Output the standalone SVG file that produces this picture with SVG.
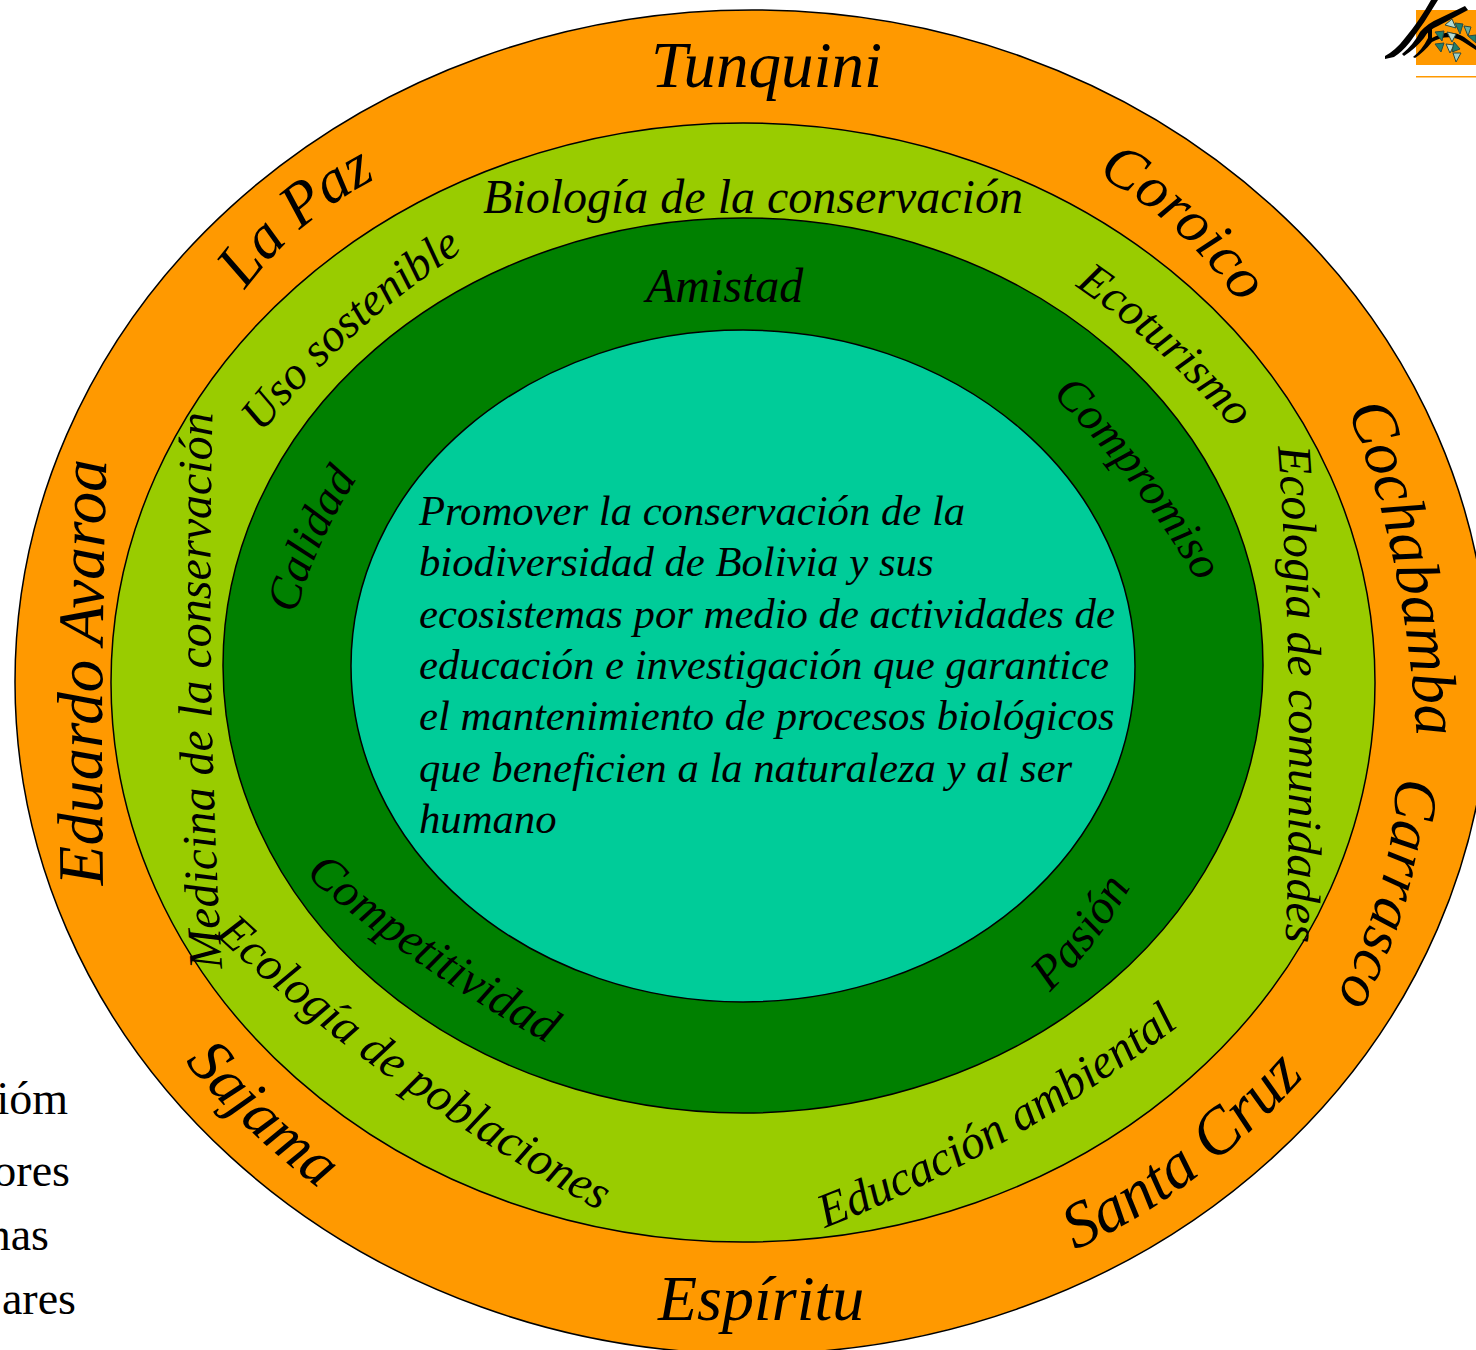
<svg xmlns="http://www.w3.org/2000/svg" width="1476" height="1350" viewBox="0 0 1476 1350">
<style>
.r{stroke:#000;stroke-width:1.5}
text{font-family:"Liberation Serif","Times New Roman",serif;font-style:italic;fill:#000}
.o{font-size:65px}.n{font-size:62px}.g{font-size:48px}.s{font-size:46.5px}.c{font-size:42.7px}
.l{font-style:normal;font-size:46px;text-anchor:end}
</style>
<defs>
<path id="p1" d="M245 290Q302 212 397 168"/>
<path id="p2" d="M1097 175Q1190 225 1250 320"/>
<path id="p3" d="M1347 410Q1408 555 1418 760"/>
<path id="p4" d="M1396 778Q1394 895 1327 1015"/>
<path id="p5" d="M1075 1250Q1208 1190 1320 1058"/>
<path id="p6" d="M185 1062Q250 1140 345 1208"/>
<path id="p7" d="M103 885Q100 670 107 440"/>
<path id="g1" d="M262 433Q350 322 480 240"/>
<path id="g2" d="M1075 286Q1168 349 1253 452"/>
<path id="g3" d="M1278 447Q1296 690 1285 960"/>
<path id="g4" d="M825 1228Q1007 1158 1192 1016"/>
<path id="g5" d="M215 935Q390 1098 620 1222"/>
<path id="g6" d="M222 968Q205 690 213 395"/>
<path id="d1" d="M296 614Q316 537 368 462"/>
<path id="d2" d="M1052 395Q1140 480 1210 603"/>
<path id="d3" d="M1050 992Q1100 945 1140 870"/>
<path id="d4" d="M305 875Q420 975 570 1056"/>
</defs>
<rect width="1476" height="1350" fill="#fff"/>
<g id="legend-text">
<text class="l" x="68" y="1114">ióm</text>
<text class="l" x="70" y="1186">ores</text>
<text class="l" x="49" y="1250">nas</text>
<text class="l" x="76" y="1314">ares</text>
</g>
<g id="ring-outer"><ellipse class="r" cx="752" cy="682" rx="737" ry="672" fill="#ff9900"/></g>
<g id="ring-light"><ellipse class="r" cx="743" cy="682.5" rx="632" ry="559.5" fill="#99cc00"/></g>
<g id="ring-dark"><ellipse class="r" cx="743" cy="665.5" rx="520" ry="447.5" fill="#008000"/></g>
<g id="core"><ellipse class="r" cx="743" cy="666" rx="392" ry="336" fill="#00cc99"/>
<text class="c" x="419" y="525">Promover la conservación de la</text>
<text class="c" x="419" y="576">biodiversidad de Bolivia y sus</text>
<text class="c" x="419" y="628">ecosistemas por medio de actividades de</text>
<text class="c" x="419" y="679">educación e investigación que garantice</text>
<text class="c" x="419" y="730">el mantenimiento de procesos biológicos</text>
<text class="c" x="419" y="782">que beneficien a la naturaleza y al ser</text>
<text class="c" x="419" y="833">humano</text>
</g>
<g id="labels-outer">
<text class="o" x="651" y="87">Tunquini</text>
<text class="o" x="658" y="1320" style="font-size:64px">Espíritu</text>
<text class="n"><textPath href="#p1">La Paz</textPath></text>
<text class="n" style="font-size:60px"><textPath href="#p2">Coroico</textPath></text>
<text class="o" style="font-size:63px"><textPath href="#p3">Cochabamba</textPath></text>
<text class="n" style="font-size:61px"><textPath href="#p4">Carrasco</textPath></text>
<text class="o"><textPath href="#p5">Santa Cruz</textPath></text>
<text class="n"><textPath href="#p6">Sajama</textPath></text>
<text class="o"><textPath href="#p7">Eduardo Avaroa</textPath></text>
</g>
<g id="labels-light">
<text class="g" x="483" y="213">Biología de la conservación</text>
<text class="s"><textPath href="#g1">Uso sostenible</textPath></text>
<text class="s"><textPath href="#g2">Ecoturismo</textPath></text>
<text class="g"><textPath href="#g3">Ecología de comunidades</textPath></text>
<text class="g"><textPath href="#g4">Educación ambiental</textPath></text>
<text class="g"><textPath href="#g5">Ecología de poblaciones</textPath></text>
<text class="g"><textPath href="#g6">Medicina de la conservación</textPath></text>
</g>
<g id="labels-dark">
<text class="g" x="646" y="302">Amistad</text>
<text class="s"><textPath href="#d1">Calidad</textPath></text>
<text class="s"><textPath href="#d2">Compromiso</textPath></text>
<text class="g"><textPath href="#d3">Pasión</textPath></text>
<text class="g"><textPath href="#d4">Competitividad</textPath></text>
</g>
<g id="logo">
<rect x="1416" y="10" width="60" height="55" fill="#ff9900"/>
<rect x="1416" y="76" width="60" height="1.5" fill="#ff9900"/>
<path d="M1385 59L1394 57Q1402 52 1410 42Q1425 22 1438 0L1431 0Q1420 20 1405 38Q1396 50 1385 56Z"/>
<path d="M1402 54Q1414 44 1420 32Q1428 23 1438 19L1465 6L1468 10L1438 26Q1428 30 1424 38Q1416 48 1404 56Z"/>
<path d="M1413 57Q1422 50 1428 38L1428 25L1432 27L1432 38Q1450 28 1464 37L1476 46L1476 50L1462 41Q1448 33 1432 42Q1424 52 1415 58Z"/>
<g fill="#1e7f6e" stroke="#2a4a40" stroke-width="1">
<path d="M1435 32l9 -1 -2 10z"/><path d="M1447 32l9 2 -4 8z" fill="#b5dcd5"/><path d="M1445 25l7 -6 4 9z" fill="#b5dcd5"/><path d="M1455 23l8 1 -3 10z"/><path d="M1464 26l7 1 -3 9z" fill="#6aaea0"/><path d="M1468 36l8 -1 0 8z"/><path d="M1435 44l9 -1 -3 9z"/><path d="M1446 44l8 1 -4 8z" fill="#b5dcd5"/><path d="M1454 42l6 7 -8 3z"/><path d="M1453 53l8 0 -5 9z" fill="#9fd0c8"/>
</g>
</g>
</svg>
